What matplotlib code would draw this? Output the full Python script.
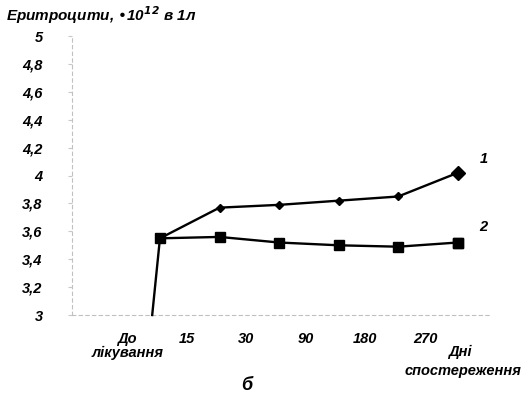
import matplotlib
matplotlib.use("Agg")
import matplotlib.pyplot as plt

# ---------- дані ----------
categories = ["До\nлікування", "15", "30", "90", "180", "270"]
series1 = [3.55, 3.77, 3.79, 3.82, 3.85, 4.02]   # крива 1
series2 = [3.55, 3.56, 3.52, 3.50, 3.49, 3.52]   # крива 2
before_value = 3.0                               # значення до лікування (низ шкали)
y_ticks = [3, 3.2, 3.4, 3.6, 3.8, 4, 4.2, 4.4, 4.6, 4.8, 5]
y_labels = ["3", "3,2", "3,4", "3,6", "3,8", "4", "4,2", "4,4", "4,6", "4,8", "5"]

plt.rcParams["font.family"] = ["Liberation Sans", "DejaVu Sans"]
plt.rcParams["font.weight"] = "bold"
plt.rcParams["font.style"] = "italic"

fig = plt.figure(figsize=(5.24, 3.97), dpi=100)
ax = fig.add_axes([0.137, 0.2065, 0.798, 0.7025])

x = list(range(1, len(series1) + 1))
label_pos = [i - 0.55 for i in x]

# вертикальний відрізок від рівня "до лікування"
ax.plot([x[0] - 0.13, x[0]], [before_value, series1[0]], color="black", lw=1.7,
        clip_on=False, zorder=3)

ax.plot(x, series1, color="black", lw=1.7, marker="D", ms=4.5, zorder=4)
ax.plot(x[-1:], series1[-1:], color="black", marker="D", ms=7, ls="none", zorder=5)
ax.plot(x, series2, color="black", lw=1.7, marker="s", ms=6.5, zorder=4)
ax.plot(x[-1:], series2[-1:], color="black", marker="s", ms=7.5, ls="none", zorder=5)

ax.set_xlim(-0.48, 6.54)
ax.set_ylim(3, 5)
ax.set_yticks(y_ticks)
ax.set_yticklabels(y_labels, fontsize=10.5)
ax.set_xticks(label_pos)
ax.set_xticklabels(categories, fontsize=10.5, linespacing=1.05)
ax.tick_params(axis="y", length=3, color="#c8c8c8", pad=18)
ax.tick_params(axis="x", length=0, pad=12)

for side in ["top", "right"]:
    ax.spines[side].set_visible(False)
for side in ["left", "bottom"]:
    ax.spines[side].set_color("#c0c0c0")
    ax.spines[side].set_linewidth(0.8)
    ax.spines[side].set_linestyle((0, (3, 3)))

# підписи кривих
ax.text(6.43, series1[-1] + 0.1, "1", fontsize=10.5, ha="center", va="center")
ax.text(6.43, series2[-1] + 0.11, "2", fontsize=10.5, ha="center", va="center")

fig.text(6 / 524, 1 - 15 / 397, "Еритроцити, •10$^{\\mathbf{12}}$ в 1л",
         fontsize=11, ha="left", va="center")
fig.text(448 / 524, 1 - 352 / 397, "Дні", fontsize=10.5, ha="left", va="center")
fig.text(521 / 524, 1 - 371 / 397, "спостереження", fontsize=10.5, ha="right", va="center")
fig.text(247 / 524, 1 - 386 / 397, "б", fontsize=13, ha="center", va="center")

fig.savefig("out.png", dpi=100)
